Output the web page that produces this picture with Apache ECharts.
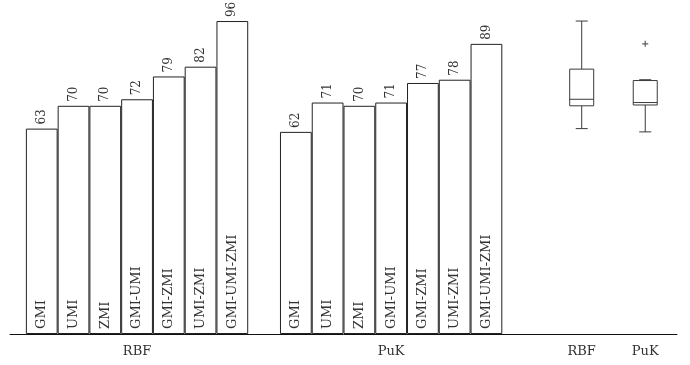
<!DOCTYPE html>
<html>
<head>
<meta charset="utf-8">
<script src="https://cdn.jsdelivr.net/npm/echarts@6/dist/echarts.min.js"></script>
<style>
  html, body { margin: 0; padding: 0; background: #fff; }
  #chart { width: 690px; height: 365px; }
</style>
</head>
<body>
<div id="chart"></div>
<script>
// Feature-selection variants and the two SVM kernels
const methods = ['GMI', 'UMI', 'ZMI', 'GMI-UMI', 'GMI-ZMI', 'UMI-ZMI', 'GMI-UMI-ZMI'];
const kernels = ['RBF', 'PuK'];

// Scores per method for each kernel
const rbfScores = [63, 70, 70, 72, 79, 82, 96];
const pukScores = [62, 71, 70, 71, 77, 78, 89];

// Box summaries per kernel: [min, Q1, median, Q3, max]
const rbfBox = [63, 70, 72, 81.25, 96];
const pukBox = [62, 70.25, 71, 77.75, 78];
const pukOutliers = [89];

// Slot layout along the shared category axis
const rbfStart = 1, pukStart = 9, rbfBoxSlot = 18, pukBoxSlot = 20, slotCount = 22;

const slotKeys = [];
const slotLabels = [];
for (let i = 0; i < slotCount; i++) { slotKeys.push('s' + i); slotLabels.push(''); }
slotLabels[rbfStart + 3] = kernels[0];
slotLabels[pukStart + 3] = kernels[1];
slotLabels[rbfBoxSlot] = kernels[0];
slotLabels[pukBoxSlot] = kernels[1];

const barData = new Array(slotCount).fill('-');
rbfScores.forEach((v, i) => { barData[rbfStart + i] = { value: v, name: methods[i] }; });
pukScores.forEach((v, i) => { barData[pukStart + i] = { value: v, name: methods[i] }; });

const boxData = [
  [rbfBoxSlot].concat(rbfBox),
  [pukBoxSlot].concat(pukBox)
];
const outlierData = pukOutliers.map(v => [pukBoxSlot, v]);

const FONT = 'DejaVu Serif';
const INK = '#222';
const TEXT = '#333';

const chart = echarts.init(document.getElementById('chart'), null, { renderer: 'canvas' });

function renderBox(params, api) {
  const slot = api.value(0);
  const pt = v => api.coord([slot, v]);
  const [cx, yMin] = pt(api.value(1));
  const yQ1 = pt(api.value(2))[1];
  const yMed = pt(api.value(3))[1];
  const yQ3 = pt(api.value(4))[1];
  const yMax = pt(api.value(5))[1];
  const half = 12, capHalf = 6;
  const stroke = { stroke: '#3a3a3a', lineWidth: 1, fill: null };
  return {
    type: 'group',
    children: [
      { type: 'rect', shape: { x: cx - half, y: yQ3, width: half * 2, height: yQ1 - yQ3 }, style: { stroke: '#3a3a3a', lineWidth: 1, fill: 'none' } },
      { type: 'line', shape: { x1: cx - half, y1: yMed, x2: cx + half, y2: yMed }, style: stroke },
      { type: 'line', shape: { x1: cx, y1: yQ3, x2: cx, y2: yMax }, style: stroke },
      { type: 'line', shape: { x1: cx - capHalf, y1: yMax, x2: cx + capHalf, y2: yMax }, style: stroke },
      { type: 'line', shape: { x1: cx, y1: yQ1, x2: cx, y2: yMin }, style: stroke },
      { type: 'line', shape: { x1: cx - capHalf, y1: yMin, x2: cx + capHalf, y2: yMin }, style: stroke }
    ]
  };
}

chart.setOption({
  animation: false,
  backgroundColor: '#fff',
  grid: { left: 10, right: 13, top: 8, bottom: 31, containLabel: false, outerBoundsMode: 'none' },
  xAxis: {
    type: 'category',
    data: slotKeys,
    boundaryGap: false,
    axisLine: { show: true, lineStyle: { color: '#111', width: 1 } },
    axisTick: { show: false },
    splitLine: { show: false },
    axisLabel: {
      interval: 0,
      margin: 11,
      fontFamily: FONT,
      fontSize: 13,
      color: TEXT,
      formatter: (v, i) => slotLabels[i]
    }
  },
  yAxis: { type: 'value', min: 0, max: 100, show: false },
  series: [
    {
      type: 'bar',
      data: barData,
      barWidth: '100%',
      barGap: '-100%',
      itemStyle: { color: '#fff', borderColor: INK, borderWidth: 1 },
      label: {
        show: true,
        position: 'top',
        rotate: 90,
        align: 'left',
        verticalAlign: 'middle',
        distance: 4,
        fontFamily: FONT,
        fontSize: 12,
        color: TEXT,
        formatter: p => p.value
      },
      z: 2
    },
    {
      type: 'bar',
      data: barData,
      barWidth: '100%',
      barGap: '-100%',
      itemStyle: { color: 'rgba(0,0,0,0)', borderWidth: 0 },
      label: {
        show: true,
        position: 'insideBottom',
        rotate: 90,
        align: 'left',
        verticalAlign: 'middle',
        distance: 5,
        fontFamily: FONT,
        fontSize: 13,
        color: TEXT,
        formatter: p => p.name
      },
      z: 3
    },
    {
      type: 'custom',
      renderItem: renderBox,
      data: boxData,
      encode: { x: 0, y: [1, 2, 3, 4, 5] },
      z: 4
    },
    {
      type: 'scatter',
      data: outlierData,
      symbol: 'path://M2,0H3V2H5V3H3V5H2V3H0V2H2Z',
      symbolSize: 6,
      itemStyle: { color: '#333' },
      z: 5
    }
  ]
});
</script>
</body>
</html>
